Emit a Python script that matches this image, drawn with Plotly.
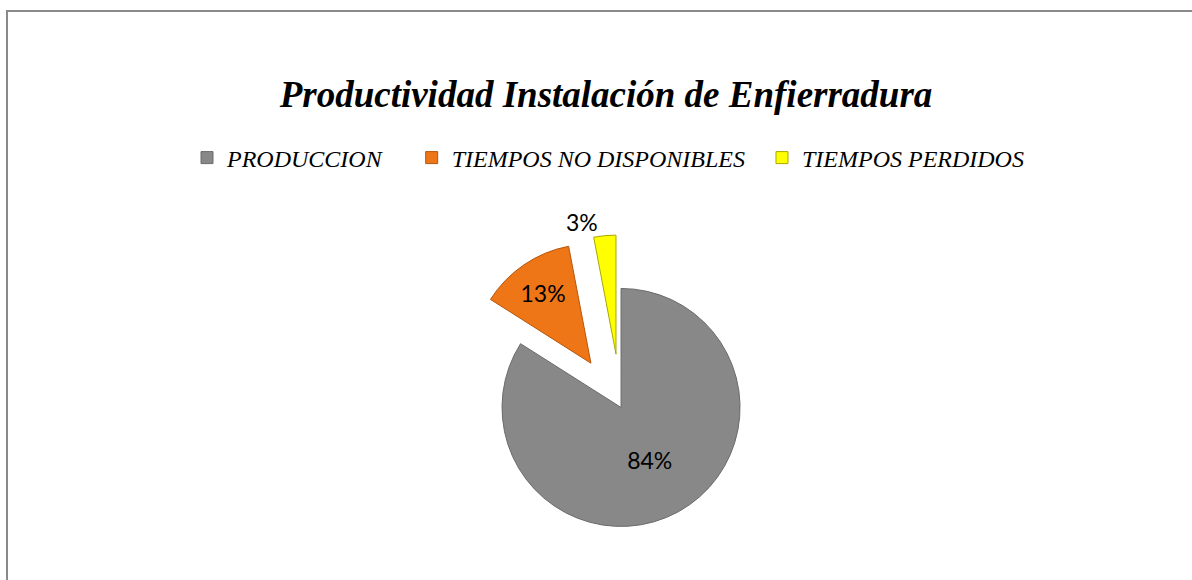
import plotly.graph_objects as go

# ── Datos ──
categorias = ["PRODUCCION", "TIEMPOS NO DISPONIBLES", "TIEMPOS PERDIDOS"]
valores = [84, 13, 3]

# ── Estilo ──
colores = ["#888888", "#EE7617", "#FFFF00"]
bordes = ["#6A6A6A", "#B4560C", "#A8A800"]
separacion = [0, 0.45, 0.45]
# espacios extra para separar las entradas de la leyenda
relleno = ["\u00a0" * 4, "\u00a0" * 2, ""]

fig = go.Figure()

fig.add_trace(
    go.Pie(
        labels=[c + r for c, r in zip(categorias, relleno)],
        values=valores,
        sort=False,
        direction="clockwise",
        rotation=0,
        pull=separacion,
        marker=dict(colors=colores, line=dict(color=bordes, width=1)),
        textinfo="percent",
        textposition=["inside", "inside", "outside"],
        insidetextorientation="horizontal",
        textfont=dict(family="Lato, Open Sans, sans-serif", size=23, color="#000000"),
        outsidetextfont=dict(family="Lato, Open Sans, sans-serif", size=23, color="#000000"),
        domain=dict(x=[0.371, 0.671], y=[0, 0.595]),
        customdata=categorias,
        hovertemplate="%{customdata}: %{percent}<extra></extra>",
    )
)

# ── Marco del gráfico ──
fig.add_shape(
    type="rect", xref="paper", yref="paper",
    x0=7 / 1192, x1=1.01, y0=-0.01, y1=1 - 11 / 580,
    line=dict(color="#8A8A8A", width=2),
)

fig.update_layout(
    width=1192,
    height=580,
    paper_bgcolor="#FFFFFF",
    plot_bgcolor="#FFFFFF",
    margin=dict(l=0, r=0, t=0, b=0, autoexpand=False),
    title=dict(
        text="<b><i>Productividad Instalación de Enfierradura</i></b>",
        font=dict(family="Liberation Serif, Times New Roman, serif", size=37, color="#000000"),
        x=606 / 1192,
        xanchor="center",
        y=1 - 94 / 580,
        yanchor="middle",
    ),
    legend=dict(
        orientation="h",
        x=187 / 1192,
        xanchor="left",
        y=1 - 158 / 580,
        yanchor="middle",
        font=dict(family="Liberation Serif, Times New Roman, serif", size=24, color="#000000", style="italic"),
        bgcolor="rgba(0,0,0,0)",
        traceorder="normal",
    ),
    showlegend=True,
)

fig.write_html(
    "out.html",
    config=dict(displayModeBar=False),
    post_script="document.body.style.margin='0';",
)
